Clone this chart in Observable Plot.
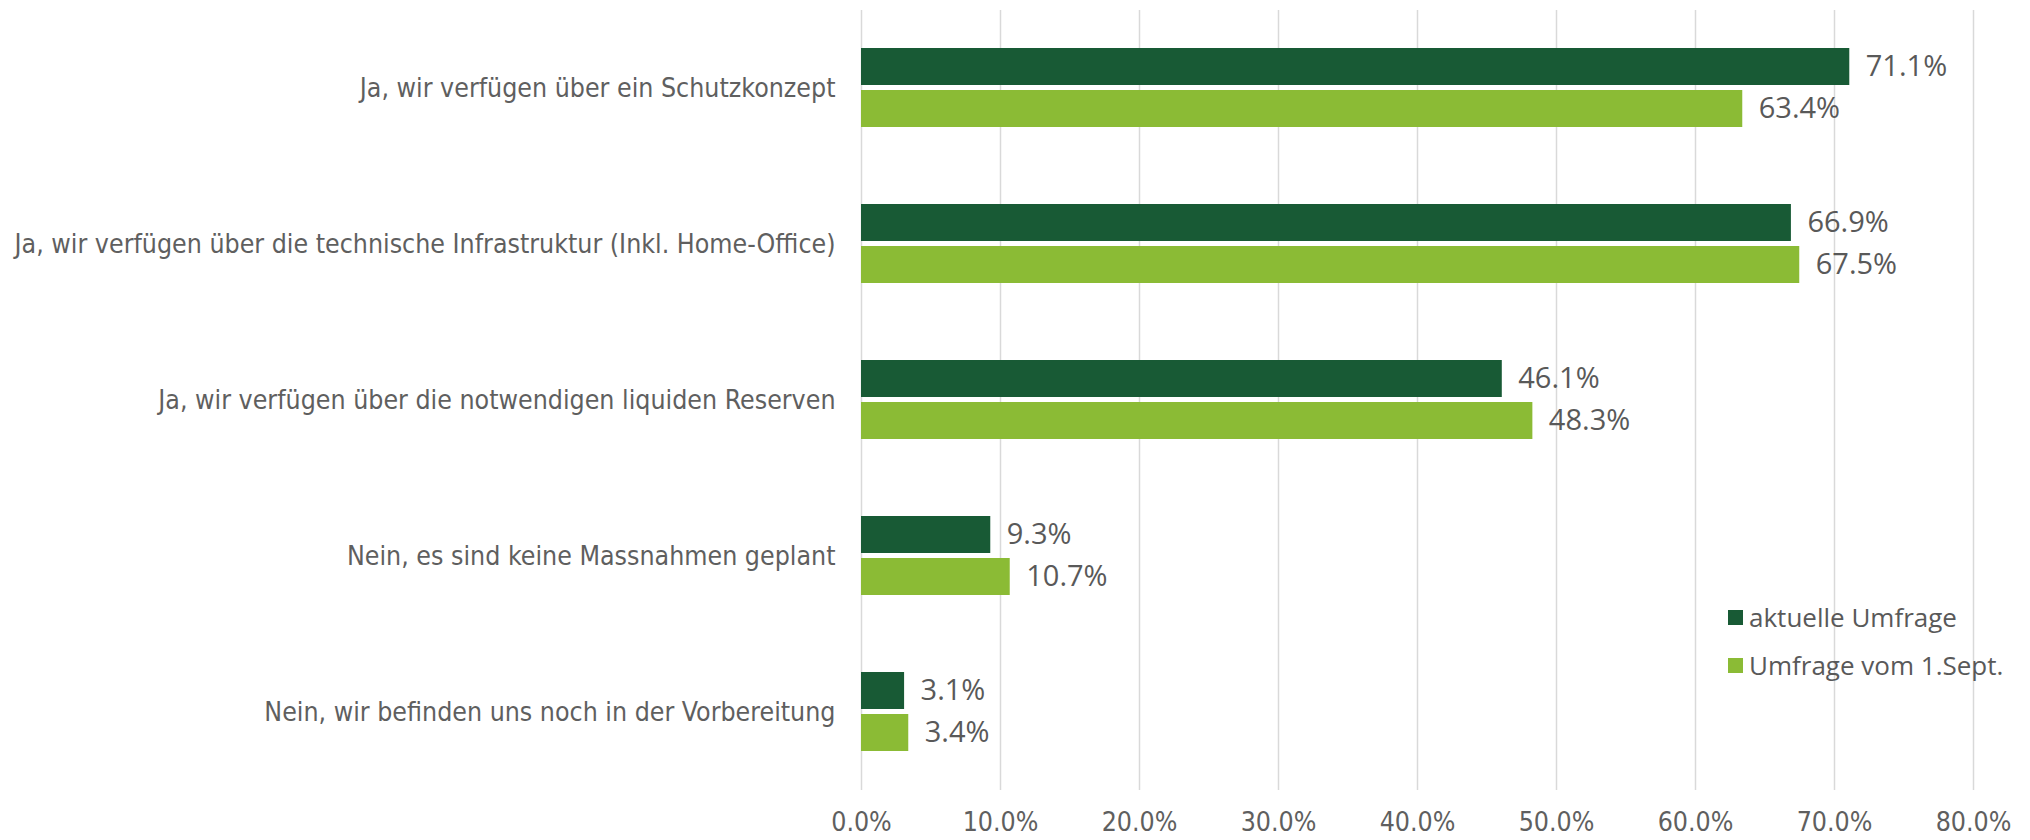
<!DOCTYPE html>
<html><head><meta charset="utf-8">
<script src="https://cdn.jsdelivr.net/npm/d3@7"></script>
<script src="https://cdn.jsdelivr.net/npm/@observablehq/plot@0.6"></script>
<style>
body{margin:0;background:#fff;}
#wrap{position:relative;width:2030px;height:840px;}
#legend{position:absolute;left:1728px;top:593px;font-family:'Open Sans',sans-serif;font-size:26px;color:#595959;}
.row{display:flex;align-items:center;height:48px;white-space:nowrap;}
.sw{width:15px;height:15px;margin-right:6px;flex:none;}
</style></head><body><div id="wrap"><div id="legend"></div></div>
<script>
const categories = [
  "Ja, wir verfügen über ein Schutzkonzept",
  "Ja, wir verfügen über die technische Infrastruktur (Inkl. Home-Office)",
  "Ja, wir verfügen über die notwendigen liquiden Reserven",
  "Nein, es sind keine Massnahmen geplant",
  "Nein, wir befinden uns noch in der Vorbereitung"
];
const series = ["aktuelle Umfrage", "Umfrage vom 1.Sept."];
const current = [71.1, 66.9, 46.1, 9.3, 3.1];
const september = [63.4, 67.5, 48.3, 10.7, 3.4];
const colors = ["#185a35", "#8bbb35"];
const xTicks = [0, 10, 20, 30, 40, 50, 60, 70, 80];

const data = categories.flatMap((c, i) => [
  {category: c, series: series[0], value: current[i]},
  {category: c, series: series[1], value: september[i]}
]);

const chart = Plot.plot({
  width: 2030, height: 840,
  marginLeft: 861, marginRight: 57, marginTop: 10, marginBottom: 50,
  style: {fontFamily: "'DejaVu Sans Condensed', sans-serif", fontSize: "26.5px", color: "#5f5f5f", background: "transparent"},
  x: {domain: [0, 80], ticks: xTicks, tickFormat: d => d.toFixed(1) + "%", tickSize: 0, tickPadding: 22, label: null},
  y: {domain: series, axis: null, paddingInner: 0.1176, paddingOuter: 0.894},
  fy: {domain: categories, axis: "left", padding: 0, tickSize: 0, tickPadding: 26, label: null},
  color: {domain: series, range: colors},
  marks: [
    Plot.ruleX(xTicks, {stroke: "#d9d9d9", strokeWidth: 1.5}),
    Plot.barX(data, {x: "value", y: "series", fy: "category", fill: "series"}),
    Plot.text(data, {x: "value", y: "series", fy: "category", text: d => d.value.toFixed(1) + "%", textAnchor: "start", dx: 16, fill: "#595959", fontFamily: "'Open Sans', sans-serif", fontSize: 29})
  ]
});
document.getElementById("wrap").prepend(chart);

const legend = document.getElementById("legend");
series.forEach((s, i) => {
  const row = document.createElement("div");
  row.className = "row";
  const sw = document.createElement("span");
  sw.className = "sw";
  sw.style.background = colors[i];
  const t = document.createElement("span");
  t.textContent = s;
  row.append(sw, t);
  legend.append(row);
});
</script>
</body></html>
